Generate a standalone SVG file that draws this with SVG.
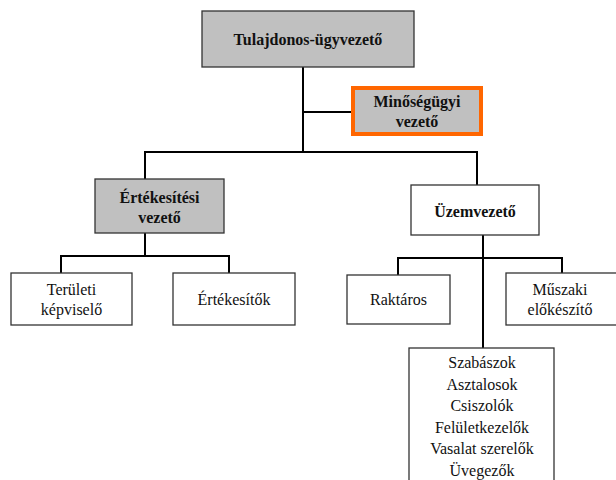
<svg xmlns="http://www.w3.org/2000/svg" width="616" height="480" viewBox="0 0 616 480">
<rect width="616" height="480" fill="#fff"/>
<g id="connectors" fill="none" stroke="#000" stroke-width="2">
<path d="M303,67 V152"/>
<path d="M303,112 H355"/>
<path d="M145,180 V152 H477 V185"/>
<path d="M145,233 V256"/>
<path d="M61,273 V256 H229 V273"/>
<path d="M483,235 V348"/>
<path d="M398,275 V258 H562 V273"/>
</g>
<g id="tulajdonos">
<rect x="202" y="11" width="212" height="56" fill="#c0c0c0" stroke="#333" stroke-width="1.3"/>
<text x="308" y="45" text-anchor="middle" fill="#111" style="font-family:'Liberation Serif', serif;font-size:16px;font-weight:bold">Tulajdonos-ügyvezető</text>
</g>
<g id="minosegugyi">
<rect x="353" y="88" width="128" height="46" fill="#c0c0c0" stroke="#ff6600" stroke-width="4"/>
<text x="417" y="107" text-anchor="middle" fill="#111" style="font-family:'Liberation Serif', serif;font-size:16px;font-weight:bold">Minőségügyi</text>
<text x="417" y="127" text-anchor="middle" fill="#111" style="font-family:'Liberation Serif', serif;font-size:16px;font-weight:bold">vezető</text>
</g>
<g id="ertekesitesi">
<rect x="95" y="179" width="129" height="54" fill="#c0c0c0" stroke="#333" stroke-width="1.3"/>
<text x="159.5" y="203" text-anchor="middle" fill="#111" style="font-family:'Liberation Serif', serif;font-size:16px;font-weight:bold">Értékesítési</text>
<text x="159.5" y="223" text-anchor="middle" fill="#111" style="font-family:'Liberation Serif', serif;font-size:16px;font-weight:bold">vezető</text>
</g>
<g id="uzemvezeto">
<rect x="411" y="185" width="128" height="50" fill="#fff" stroke="#333" stroke-width="1.3"/>
<text x="475" y="217" text-anchor="middle" fill="#111" style="font-family:'Liberation Serif', serif;font-size:16px;font-weight:bold">Üzemvezető</text>
</g>
<g id="teruleti">
<rect x="11" y="273" width="121" height="52" fill="#fff" stroke="#333" stroke-width="1.3"/>
<text x="71.5" y="295" text-anchor="middle" fill="#111" style="font-family:'Liberation Serif', serif;font-size:16px">Területi</text>
<text x="71.5" y="315" text-anchor="middle" fill="#111" style="font-family:'Liberation Serif', serif;font-size:16px">képviselő</text>
</g>
<g id="ertekesitok">
<rect x="173" y="273" width="122" height="52" fill="#fff" stroke="#333" stroke-width="1.3"/>
<text x="234" y="305" text-anchor="middle" fill="#111" style="font-family:'Liberation Serif', serif;font-size:16px">Értékesítők</text>
</g>
<g id="raktaros">
<rect x="347" y="275" width="103" height="49" fill="#fff" stroke="#333" stroke-width="1.3"/>
<text x="398.5" y="305" text-anchor="middle" fill="#111" style="font-family:'Liberation Serif', serif;font-size:16px">Raktáros</text>
</g>
<g id="muszaki">
<rect x="506" y="273" width="120" height="52" fill="#fff" stroke="#333" stroke-width="1.3"/>
<text x="560" y="295" text-anchor="middle" fill="#111" style="font-family:'Liberation Serif', serif;font-size:16px">Műszaki</text>
<text x="560" y="315" text-anchor="middle" fill="#111" style="font-family:'Liberation Serif', serif;font-size:16px">előkészítő</text>
</g>
<g id="dolgozok">
<rect x="409" y="348" width="145" height="140" fill="#fff" stroke="#333" stroke-width="1.3"/>
<text x="482" y="368" text-anchor="middle" fill="#111" style="font-family:'Liberation Serif', serif;font-size:16px">Szabászok</text>
<text x="482" y="389.5" text-anchor="middle" fill="#111" style="font-family:'Liberation Serif', serif;font-size:16px">Asztalosok</text>
<text x="482" y="411" text-anchor="middle" fill="#111" style="font-family:'Liberation Serif', serif;font-size:16px">Csiszolók</text>
<text x="482" y="432.5" text-anchor="middle" fill="#111" style="font-family:'Liberation Serif', serif;font-size:16px">Felületkezelők</text>
<text x="482" y="454" text-anchor="middle" fill="#111" style="font-family:'Liberation Serif', serif;font-size:16px">Vasalat szerelők</text>
<text x="482" y="475.5" text-anchor="middle" fill="#111" style="font-family:'Liberation Serif', serif;font-size:16px">Üvegezők</text>
</g>
</svg>
